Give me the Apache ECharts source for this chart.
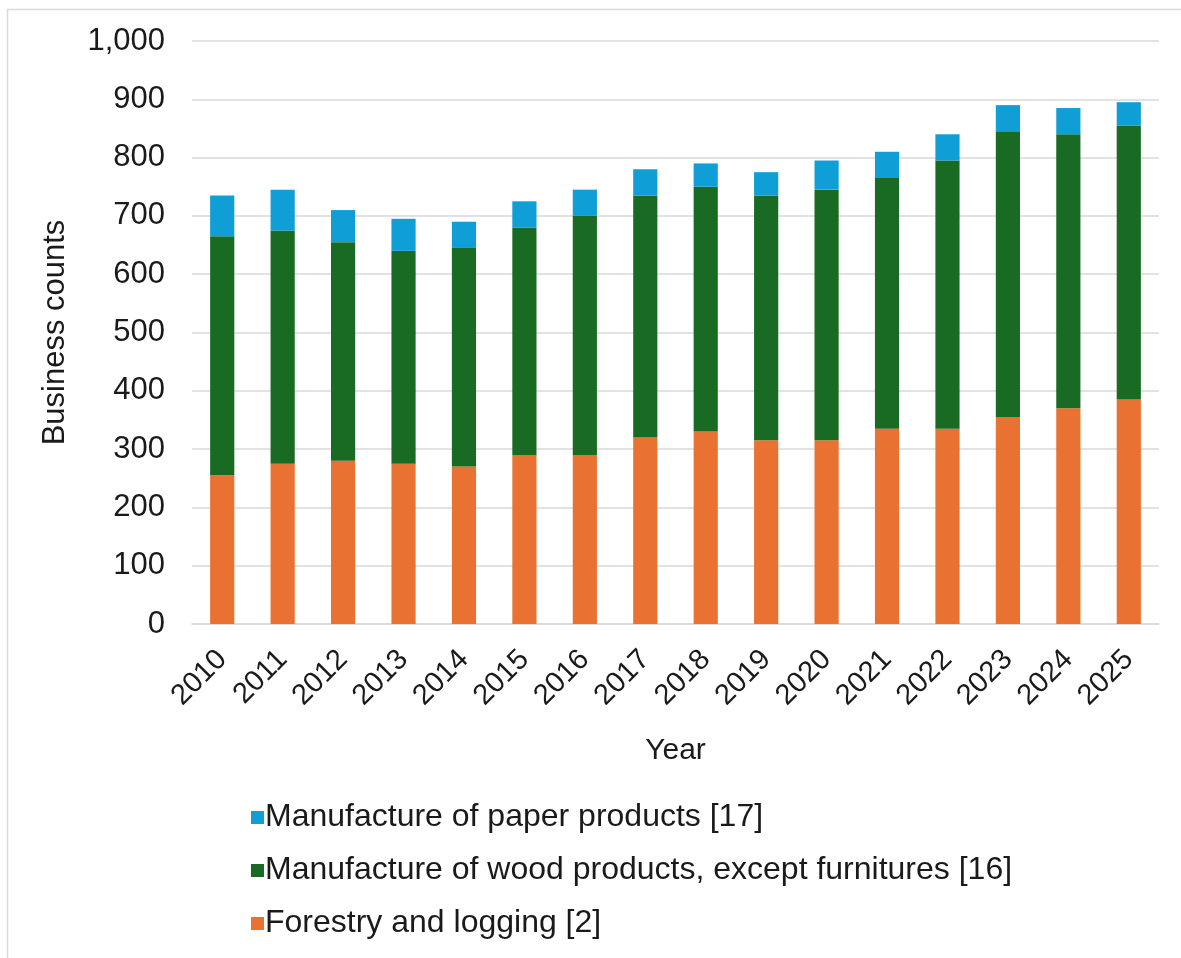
<!DOCTYPE html>
<html>
<head>
<meta charset="utf-8">
<script src="https://cdn.jsdelivr.net/npm/echarts@6/dist/echarts.min.js"></script>
<style>
html,body{margin:0;padding:0;background:#fff;}
#chart{width:1181px;height:958px;}
</style>
</head>
<body>
<div id="chart"></div>
<script>
const years = ['2010','2011','2012','2013','2014','2015','2016','2017','2018','2019','2020','2021','2022','2023','2024','2025'];
const forestry = [255,275,280,275,270,290,290,320,330,315,315,335,335,355,370,385];
const wood = [410,400,375,365,375,390,410,415,420,420,430,430,460,490,470,470];
const paper = [70,70,55,55,45,45,45,45,40,40,50,45,45,45,45,40];
const seriesNames = ['Forestry and logging [2]','Manufacture of wood products, except furnitures [16]','Manufacture of paper products [17]'];
const yTicks = [0,100,200,300,400,500,600,700,800,900,1000];

const FONT = "'Liberation Sans', Arial, sans-serif";
const TXT = '#1a1a1a';
const chart = echarts.init(document.getElementById('chart'), null, {renderer:'canvas'});
chart.setOption({
  backgroundColor:'#fff',
  animation:false,
  textStyle:{fontFamily:FONT,color:TXT},
  graphic:[{type:'rect',shape:{x:7.5,y:9.5,width:1300,height:1100},style:{fill:'none',stroke:'#d9d9d9',lineWidth:1.5},silent:true}],
  grid:{left:192,right:22,top:41,bottom:334},
  legend:{
    orient:'vertical',left:246,top:794,
    data:[seriesNames[2],seriesNames[1],seriesNames[0]],
    icon:'rect',itemWidth:13,itemHeight:13,itemGap:16,
    textStyle:{fontFamily:FONT,fontSize:32,color:TXT,lineHeight:37,padding:[0,0,0,-4]}
  },
  xAxis:{
    type:'category',data:years,
    name:'Year',nameLocation:'middle',nameGap:112,
    nameTextStyle:{fontFamily:FONT,fontSize:30,color:TXT},
    axisLine:{lineStyle:{color:'#d9d9d9',width:1.5}},
    axisTick:{show:false},
    axisLabel:{rotate:45,fontFamily:FONT,fontSize:29,color:TXT,margin:31,interval:0}
  },
  yAxis:{
    type:'value',min:yTicks[0],max:yTicks[yTicks.length-1],interval:100,
    name:'Business counts',nameLocation:'middle',nameGap:121,nameRotate:90,
    nameTextStyle:{fontFamily:FONT,fontSize:31,color:TXT},
    axisLine:{show:false},axisTick:{show:false},
    splitLine:{lineStyle:{color:'#d9d9d9',width:1.5}},
    axisLabel:{fontFamily:FONT,fontSize:31,color:TXT,margin:27,formatter:v=>v.toLocaleString('en-US')}
  },
  series:[
    {name:seriesNames[0],type:'bar',stack:'s',data:forestry,barCategoryGap:'60%',itemStyle:{color:'#E97132'}},
    {name:seriesNames[1],type:'bar',stack:'s',data:wood,barCategoryGap:'60%',itemStyle:{color:'#196B24'}},
    {name:seriesNames[2],type:'bar',stack:'s',data:paper,barCategoryGap:'60%',itemStyle:{color:'#0F9ED5'}}
  ]
});
</script>
</body>
</html>
